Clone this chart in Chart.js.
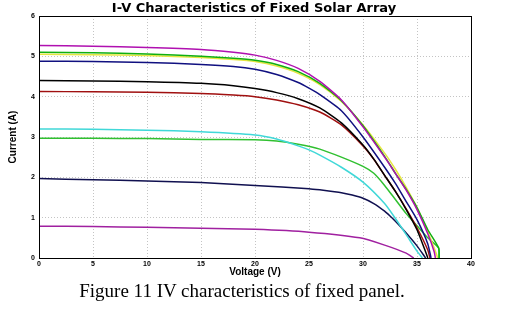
<!DOCTYPE html>
<html>
<head>
<meta charset="utf-8">
<script src="https://cdn.jsdelivr.net/npm/chart.js@4"></script>
<style>
  html, body { margin: 0; padding: 0; background: #fff; }
  #wrap { position: relative; width: 508px; height: 322px; }
  #box { position: absolute; left: 0; top: 0; width: 508px; height: 282px; }
  #caption {
    position: absolute; left: 0; width: 484px; top: 280px;
    text-align: center; font-family: "Liberation Serif", serif; font-size: 19px; color: #000;
  }
</style>
</head>
<body>
<div id="wrap">
  <div id="box"><canvas id="chart" width="508" height="282"></canvas></div>
  <div id="caption">Figure 11 IV characteristics of fixed panel.</div>
</div>
<script>
// I-V curves: voltage (V) and current (A) per curve
const vMagenta = [0, 5, 10, 15, 18, 20, 22, 24, 26, 28, 30, 32, 33, 34, 35, 36, 36.6, 36.7];
const iMagenta = [5.27, 5.25, 5.22, 5.17, 5.1, 5.03, 4.9, 4.7, 4.38, 3.92, 3.25, 2.5, 2.1, 1.68, 1.2, 0.6, 0.15, 0];

const vGreen = [0, 5, 10, 15, 18, 20, 22, 24, 26, 28, 30, 32, 33, 34, 35, 36, 37, 37.05];
const iGreen = [5.1, 5.09, 5.06, 5.0, 4.95, 4.9, 4.8, 4.62, 4.33, 3.9, 3.28, 2.52, 2.1, 1.7, 1.25, 0.7, 0.25, 0];

const vYellow = [0, 5, 10, 15, 18, 20, 22, 24, 26, 28, 30, 32, 33, 34, 35, 36, 36.8, 36.9];
const iYellow = [5.05, 5.04, 5.02, 4.97, 4.92, 4.87, 4.76, 4.58, 4.3, 3.88, 3.3, 2.6, 2.2, 1.75, 1.25, 0.65, 0.1, 0];

const vNavy = [0, 5, 10, 15, 18, 20, 22, 24, 25, 26, 28, 30, 32, 33, 34, 35, 36, 36.3];
const iNavy = [4.88, 4.87, 4.85, 4.8, 4.75, 4.68, 4.55, 4.35, 4.21, 4.05, 3.65, 3.0, 2.25, 1.85, 1.4, 0.95, 0.35, 0];

const vBlack = [0, 5, 10, 15, 18, 20, 22, 24, 26, 28, 30, 31, 32, 33, 34, 35, 35.8, 36];
const iBlack = [4.4, 4.39, 4.37, 4.33, 4.27, 4.2, 4.1, 3.95, 3.72, 3.35, 2.8, 2.45, 2.05, 1.65, 1.2, 0.7, 0.15, 0];

const vRed = [0, 5, 10, 15, 18, 20, 22, 24, 26, 28, 30, 31, 32, 33, 34, 35, 36, 36.2];
const iRed = [4.13, 4.12, 4.11, 4.08, 4.04, 4.0, 3.92, 3.8, 3.62, 3.3, 2.78, 2.45, 2.05, 1.65, 1.22, 0.75, 0.2, 0];

const vCyan = [0, 5, 10, 15, 20, 22, 24, 25, 26, 28, 30, 32, 33, 34, 35, 35.5];
const iCyan = [3.2, 3.19, 3.17, 3.13, 3.05, 2.95, 2.78, 2.68, 2.55, 2.25, 1.88, 1.35, 0.98, 0.58, 0.17, 0];

const vGreen2 = [0, 5, 10, 15, 20, 22, 24, 26, 28, 30, 31, 32, 33, 34, 35, 36, 37, 37.05];
const iGreen2 = [2.97, 2.97, 2.96, 2.94, 2.93, 2.9, 2.82, 2.7, 2.5, 2.27, 2.1, 1.8, 1.45, 1.1, 0.8, 0.5, 0.25, 0];

const vNavy2 = [0, 5, 10, 15, 20, 25, 26, 28, 29, 30, 31, 32, 32.5, 33, 34, 35, 35.8];
const iNavy2 = [1.97, 1.94, 1.91, 1.87, 1.8, 1.72, 1.69, 1.62, 1.56, 1.48, 1.35, 1.16, 1.04, 0.91, 0.62, 0.3, 0];

const vMagenta2 = [0, 5, 10, 15, 20, 25, 29.7, 32, 34, 34.7];
const iMagenta2 = [0.79, 0.78, 0.76, 0.74, 0.71, 0.64, 0.5, 0.32, 0.12, 0];

const curves = [
  [vMagenta, iMagenta, '#b010b0'],
  [vGreen, iGreen, '#10b010'],
  [vYellow, iYellow, '#e6e640'],
  [vNavy, iNavy, '#101080'],
  [vBlack, iBlack, '#000000'],
  [vRed, iRed, '#a01010'],
  [vCyan, iCyan, '#40d8d8'],
  [vGreen2, iGreen2, '#30c030'],
  [vNavy2, iNavy2, '#101050'],
  [vMagenta2, iMagenta2, '#a020a0']
];

const datasets = curves.map(c => ({
  data: c[0].map((v, k) => ({ x: v, y: c[1][k] })),
  borderColor: c[2],
  borderWidth: 1.5,
  pointRadius: 0,
  showLine: true,
  fill: false,
  tension: 0.2
}));

// draws the black frame round the plot area
const frame = {
  id: 'frame',
  afterDraw(chart) {
    const a = chart.chartArea, ctx = chart.ctx;
    ctx.save();
    ctx.strokeStyle = '#000';
    ctx.lineWidth = 1;
    ctx.strokeRect(a.left + 0.5, a.top + 0.5, a.right - a.left, a.bottom - a.top);
    ctx.restore();
  }
};

const gridStyle = { color: '#c4c4c4', lineWidth: 1, drawTicks: false };
const dotted = { display: false, dash: [1, 2] };
const tickFont = { family: 'Liberation Sans', size: 7, weight: 'bold' };
const labelFont = { family: 'Liberation Sans', size: 10, weight: 'bold' };

new Chart(document.getElementById('chart'), {
  type: 'scatter',
  data: { datasets },
  options: {
    responsive: false,
    animation: false,
    events: [],
    layout: { padding: 0 },
    plugins: {
      legend: { display: false },
      tooltip: { enabled: false },
      title: {
        display: true,
        text: 'I-V Characteristics of Fixed Solar Array',
        color: '#000',
        font: { family: 'DejaVu Sans', size: 13, weight: 'bold', lineHeight: 1 },
        padding: { top: 2, bottom: 1 }
      }
    },
    scales: {
      x: {
        type: 'linear', min: 0, max: 40,
        ticks: { stepSize: 5, padding: 2, color: '#000', font: tickFont },
        grid: gridStyle,
        border: dotted,
        title: { display: true, text: 'Voltage (V)', color: '#000', padding: { top: 0, bottom: 4 }, font: labelFont },
        afterFit(s) { s.height = 24; }
      },
      y: {
        type: 'linear', min: 0, max: 6,
        ticks: { stepSize: 1, padding: 4, color: '#000', font: tickFont },
        grid: gridStyle,
        border: dotted,
        title: { display: true, text: 'Current (A)', color: '#000', padding: { top: 7, bottom: 0 }, font: labelFont },
        afterFit(s) { s.width = 39; }
      },
      // empty right-hand margin
      yRight: {
        type: 'linear', position: 'right', min: 0, max: 6,
        ticks: { display: false },
        grid: { display: false, drawTicks: false },
        border: { display: false },
        afterFit(s) { s.width = 37; }
      }
    }
  },
  plugins: [frame]
});
</script>
</body>
</html>
